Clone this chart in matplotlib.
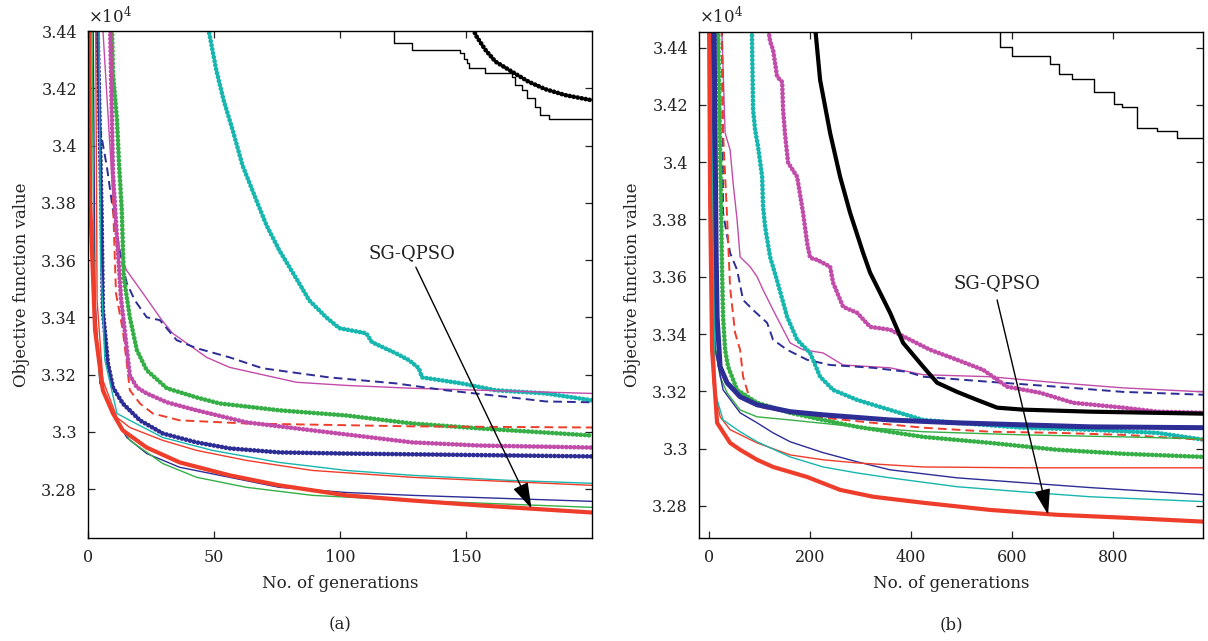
import matplotlib
matplotlib.use('Agg')
import matplotlib.pyplot as plt
from matplotlib.ticker import FuncFormatter, FixedLocator

plt.rcParams['font.family'] = ['DejaVu Serif']
plt.rcParams['mathtext.fontset'] = 'dejavuserif'

# ---------------- data (objective value in units of 1e4) ----------------
# Panel (a): 200 generations
a_black_step_x = [121.4, 121.4, 128.7, 147.8, 149.1, 150.3, 151.1, 157.7, 168.2, 169.6, 172.1, 174.1, 177.5, 179.5, 183.0, 200]
a_black_step_y = [3.450, 3.4359, 3.4334, 3.4322, 3.4301, 3.4289, 3.4270, 3.4254, 3.4240, 3.4211, 3.4194, 3.4165, 3.4133, 3.4106, 3.4092, 3.4092]
a_black_dot_x = [152.5, 153.8, 157.7, 161.7, 168.2, 174.8, 181.4, 189.4, 200]
a_black_dot_y = [3.4420, 3.4386, 3.4334, 3.4293, 3.4258, 3.4223, 3.4197, 3.4176, 3.4158]
a_cyan_dot_x = [47.5, 50.9, 53.8, 57.4, 61.3, 66.8, 70.8, 75.9, 83.1, 87.8, 94.5, 99.7, 110.4, 112.7, 122.2, 127.4, 131.3, 132.5, 148.3, 161.8, 181.6, 200]
a_cyan_dot_y = [3.4420, 3.4264, 3.4159, 3.4054, 3.3931, 3.3809, 3.3722, 3.3634, 3.3529, 3.3459, 3.3400, 3.3362, 3.3344, 3.3313, 3.3274, 3.3250, 3.3222, 3.3190, 3.3169, 3.3145, 3.3134, 3.3110]
a_mag_thin_x = [5.6, 10.3, 12.9, 15.3, 21.8, 29.3, 33.6, 47.1, 56.2, 82.7, 102.5, 128.6, 200]
a_mag_thin_y = [3.4450, 3.3764, 3.3617, 3.3564, 3.3484, 3.3390, 3.3344, 3.3260, 3.3225, 3.3173, 3.3162, 3.3152, 3.3134]
a_blue_dash_x = [3.9, 4.7, 7.5, 9.9, 12.7, 15.4, 18.6, 23.3, 28.5, 35.2, 43.1, 56.2, 69.2, 95.7, 122.2, 142.0, 168.1, 181.6, 200]
a_blue_dash_y = [3.4500, 3.4064, 3.3925, 3.3774, 3.3624, 3.3519, 3.3459, 3.3400, 3.3390, 3.3320, 3.3292, 3.3260, 3.3222, 3.3190, 3.3169, 3.3145, 3.3120, 3.3106, 3.3103]
a_green_dot_x = [9.3, 9.9, 11.5, 12.3, 13.4, 14.2, 16.6, 19.4, 23.3, 31.3, 43.1, 52.2, 75.9, 102.5, 128.6, 155.1, 200]
a_green_dot_y = [3.4500, 3.4253, 3.4089, 3.3938, 3.3774, 3.3540, 3.3400, 3.3285, 3.3215, 3.3152, 3.3120, 3.3099, 3.3075, 3.3057, 3.3029, 3.3012, 3.2987]
a_mag_dot_x = [8.6, 9.9, 11.5, 12.3, 13.1, 16.6, 19.4, 23.3, 31.3, 43.1, 62.9, 89.0, 115.5, 128.6, 155.1, 200]
a_mag_dot_y = [3.4500, 3.3904, 3.3676, 3.3575, 3.3466, 3.3197, 3.3155, 3.3134, 3.3103, 3.3075, 3.3033, 3.3005, 3.2977, 3.2963, 3.2952, 3.2945]
a_red_dash_x = [9.1, 9.9, 11.1, 13.8, 15.4, 16.6, 20.6, 25.7, 36.4, 62.9, 128.6, 200]
a_red_dash_y = [3.4500, 3.3809, 3.3484, 3.3355, 3.3239, 3.3145, 3.3099, 3.3064, 3.3040, 3.3029, 3.3019, 3.3015]
a_blue_dot_x = [3.6, 5.4, 5.9, 7.9, 9.9, 13.8, 20.6, 29.7, 43.1, 56.2, 75.9, 102.5, 200]
a_blue_dot_y = [3.4500, 3.3750, 3.3424, 3.3239, 3.3155, 3.3099, 3.3040, 3.2994, 3.2963, 3.2942, 3.2928, 3.2924, 3.2914]
a_cyan_thin_x = [4.3, 5.0, 6.7, 11.5, 16.6, 29.7, 49.4, 75.9, 102.5, 128.6, 168.1, 200]
a_cyan_thin_y = [3.4500, 3.3600, 3.3250, 3.3064, 3.3040, 3.2980, 3.2935, 3.2893, 3.2865, 3.2848, 3.2830, 3.2820]
a_red_thin_x = [3.0, 3.6, 5.9, 11.5, 16.6, 29.7, 43.1, 62.9, 89.0, 128.6, 200]
a_red_thin_y = [3.4500, 3.3460, 3.3180, 3.3050, 3.3015, 3.2970, 3.2935, 3.2900, 3.2865, 3.2841, 3.2813]
a_blue_thin_x = [2.0, 2.8, 4.7, 9.9, 15.4, 23.3, 36.4, 56.2, 75.9, 102.5, 128.6, 200]
a_blue_thin_y = [3.4500, 3.3460, 3.3170, 3.3064, 3.2980, 3.2924, 3.2876, 3.2841, 3.2806, 3.2788, 3.2778, 3.2757]
a_green_thin_x = [1.5, 2.4, 4.7, 9.9, 16.6, 29.7, 43.1, 62.9, 89.0, 128.6, 200]
a_green_thin_y = [3.4500, 3.3460, 3.3180, 3.3064, 3.2970, 3.2889, 3.2841, 3.2806, 3.2778, 3.2760, 3.2736]
a_red_thick_x = [0.5, 0.8, 2.8, 5.9, 9.9, 13.8, 23.3, 36.4, 56.2, 75.9, 102.5, 128.6, 155.1, 200]
a_red_thick_y = [3.4500, 3.3810, 3.3355, 3.3145, 3.3064, 3.3005, 3.2945, 3.2893, 3.2848, 3.2813, 3.2778, 3.2760, 3.2743, 3.2718]

# Panel (b): ~1000 generations
b_black_step_x = [576, 576, 600, 675, 693, 719, 762, 802, 818, 848, 887, 927, 980]
b_black_step_y = [3.450, 3.4403, 3.4371, 3.4342, 3.4308, 3.4290, 3.4246, 3.4203, 3.4192, 3.4119, 3.4107, 3.4084, 3.4084]
b_black_dot_x = [210, 219.8, 239.6, 259.4, 279.2, 305, 318.8, 358.4, 384.2, 423.8, 451.5, 491.1, 530.7, 570.3, 621.8, 754.5, 980]
b_black_dot_y = [3.4470, 3.4287, 3.4102, 3.3949, 3.3823, 3.3683, 3.3614, 3.3474, 3.3369, 3.3286, 3.3230, 3.3198, 3.3170, 3.3143, 3.3136, 3.3129, 3.3122]
b_mag_dot_x = [116.8, 120.8, 126.7, 134.7, 144.6, 146.5, 150.5, 156.4, 174.3, 186.1, 194.1, 200, 213.9, 239.6, 245.5, 265.3, 293.1, 318.8, 358.4, 398, 437.6, 491.1, 542.6, 590.1, 655.4, 720.8, 819.8, 887.1, 980]
b_mag_dot_y = [3.4470, 3.4421, 3.4392, 3.4298, 3.4280, 3.4183, 3.4095, 3.3998, 3.3949, 3.3823, 3.3718, 3.3666, 3.3659, 3.3635, 3.3579, 3.3495, 3.3474, 3.3425, 3.3415, 3.3380, 3.3345, 3.3310, 3.3275, 3.3216, 3.3195, 3.3160, 3.3143, 3.3129, 3.3125]
b_cyan_dot_x = [84.6, 87.1, 91.1, 97, 105, 106.9, 110.9, 120.8, 134.7, 154.5, 174.3, 200, 219.8, 245.5, 293.1, 358.4, 423.8, 491.1, 621.8, 754.5, 887.1, 980]
b_cyan_dot_y = [3.4470, 3.4183, 3.4113, 3.4053, 3.3949, 3.3844, 3.3774, 3.3669, 3.3586, 3.3460, 3.3380, 3.3334, 3.3251, 3.3205, 3.3170, 3.3135, 3.3100, 3.3090, 3.3073, 3.3066, 3.3055, 3.3031]
b_mag_thin_x = [25.1, 31.7, 41.6, 47.5, 55.4, 61.4, 81.2, 95, 106.9, 126.7, 160.4, 186.1, 225.7, 265.3, 358.4, 423.8, 556.4, 689.1, 819.8, 980]
b_mag_thin_y = [3.4470, 3.4102, 3.4043, 3.3928, 3.3799, 3.3669, 3.3635, 3.3600, 3.3554, 3.3484, 3.3369, 3.3345, 3.3334, 3.3292, 3.3282, 3.3258, 3.3251, 3.3230, 3.3212, 3.3198]
b_blue_dash_x = [25.7, 27.7, 41.6, 55.4, 67.3, 87.1, 114.9, 126.7, 154.5, 194.1, 239.6, 324.8, 392.1, 423.8, 556.4, 689.1, 819.8, 980]
b_blue_dash_y = [3.4470, 3.3823, 3.3683, 3.3624, 3.3519, 3.3484, 3.3439, 3.3380, 3.3345, 3.3310, 3.3292, 3.3282, 3.3268, 3.3251, 3.3233, 3.3216, 3.3198, 3.3188]
b_red_dash_x = [24.8, 27.7, 35.6, 41.6, 51.5, 61.4, 67.3, 81.2, 106.9, 160.4, 225.7, 324.8, 423.8, 556.4, 689.1, 819.8, 980]
b_red_dash_y = [3.4470, 3.4102, 3.3809, 3.3561, 3.3404, 3.3345, 3.3251, 3.3170, 3.3143, 3.3125, 3.3108, 3.3090, 3.3073, 3.3059, 3.3055, 3.3048, 3.3031]
b_green_dot_x = [17.8, 21.8, 25.7, 27.7, 31.7, 37.6, 55.4, 95, 160.4, 225.7, 293.1, 423.8, 556.4, 689.1, 819.8, 980]
b_green_dot_y = [3.4470, 3.4043, 3.3614, 3.3460, 3.3345, 3.3286, 3.3205, 3.3160, 3.3125, 3.3100, 3.3076, 3.3041, 3.3020, 3.2996, 3.2982, 3.2971]
b_blue_dot_x = [9.9, 13.9, 15.8, 21.8, 35.6, 61.4, 95, 160.4, 225.7, 358.4, 491.1, 621.8, 754.5, 980]
b_blue_dot_y = [3.4470, 3.3694, 3.3460, 3.3286, 3.3230, 3.3181, 3.3153, 3.3129, 3.3118, 3.3100, 3.3090, 3.3083, 3.3076, 3.3073]
b_green_thin_x = [4, 7.9, 21.8, 35.6, 61.4, 95, 160.4, 293.1, 423.8, 621.8, 819.8, 980]
b_green_thin_y = [3.4470, 3.3404, 3.3251, 3.3195, 3.3135, 3.3111, 3.3100, 3.3076, 3.3059, 3.3048, 3.3041, 3.3034]
b_blue_thin_x = [4, 11.9, 27.7, 61.4, 95, 126.7, 160.4, 225.7, 293.1, 358.4, 491.1, 621.8, 754.5, 980]
b_blue_thin_y = [3.4470, 3.3345, 3.3205, 3.3125, 3.3090, 3.3055, 3.3024, 3.2986, 3.2954, 3.2926, 3.2898, 3.2881, 3.2864, 3.2839]
b_red_thin_x = [2, 7.9, 21.8, 41.6, 95, 160.4, 225.7, 293.1, 423.8, 621.8, 980]
b_red_thin_y = [3.4470, 3.3230, 3.3111, 3.3066, 3.3020, 3.2978, 3.2961, 3.2950, 3.2936, 3.2933, 3.2933]
b_cyan_thin_x = [2, 11.9, 27.7, 61.4, 95, 160.4, 225.7, 293.1, 358.4, 491.1, 621.8, 754.5, 980]
b_cyan_thin_y = [3.4470, 3.3195, 3.3100, 3.3059, 3.3024, 3.2971, 3.2936, 3.2915, 3.2898, 3.2867, 3.2849, 3.2832, 3.2815]
b_red_thick_x = [0, 2, 5.9, 15.8, 41.6, 61.4, 95, 126.7, 194.1, 259.4, 324.8, 423.8, 556.4, 689.1, 819.8, 980]
b_red_thick_y = [3.4470, 3.3868, 3.3345, 3.3090, 3.3020, 3.2996, 3.2961, 3.2936, 3.2901, 3.2856, 3.2832, 3.2811, 3.2786, 3.2769, 3.2759, 3.2745]

a_xticks = [0, 50, 100, 150]
b_xticks = [0, 200, 400, 600, 800]
y_ticks = [3.28, 3.30, 3.32, 3.34, 3.36, 3.38, 3.40, 3.42, 3.44]
panel_labels = ['(a)', '(b)']
annot_text = 'SG-QPSO'

# ---------------- styles ----------------
RED = '#ee3d2b'; BLUE = '#2d2d96'; GREEN = '#35af46'; MAG = '#c24ca9'; CYAN = '#17b6ae'; BLACK = '#000000'
DOT = dict(linestyle=(0, (0.01, 0.85)), lw=3.4, dash_capstyle='round')
THIN = dict(linestyle='-', lw=1.0)
DASH = dict(linestyle=(0, (4.5, 2.6)), lw=1.4)

series_a = [
    (a_black_step_x, a_black_step_y, BLACK, dict(linestyle='-', lw=1.0, drawstyle='steps-post')),
    (a_black_dot_x, a_black_dot_y, BLACK, DOT),
    (a_cyan_dot_x, a_cyan_dot_y, CYAN, DOT),
    (a_mag_thin_x, a_mag_thin_y, MAG, THIN),
    (a_blue_dash_x, a_blue_dash_y, BLUE, DASH),
    (a_green_dot_x, a_green_dot_y, GREEN, DOT),
    (a_red_dash_x, a_red_dash_y, RED, DASH),
    (a_mag_dot_x, a_mag_dot_y, MAG, DOT),
    (a_blue_dot_x, a_blue_dot_y, BLUE, DOT),
    (a_cyan_thin_x, a_cyan_thin_y, CYAN, THIN),
    (a_red_thin_x, a_red_thin_y, RED, THIN),
    (a_blue_thin_x, a_blue_thin_y, BLUE, THIN),
    (a_green_thin_x, a_green_thin_y, GREEN, THIN),
    (a_red_thick_x, a_red_thick_y, RED, dict(linestyle='-', lw=3.0)),
]
series_b = [
    (b_black_step_x, b_black_step_y, BLACK, dict(linestyle='-', lw=1.0, drawstyle='steps-post')),
    (b_mag_thin_x, b_mag_thin_y, MAG, THIN),
    (b_blue_dash_x, b_blue_dash_y, BLUE, DASH),
    (b_mag_dot_x, b_mag_dot_y, MAG, DOT),
    (b_black_dot_x, b_black_dot_y, BLACK, dict(linestyle='-', lw=3.0)),
    (b_cyan_dot_x, b_cyan_dot_y, CYAN, DOT),
    (b_red_dash_x, b_red_dash_y, RED, DASH),
    (b_green_thin_x, b_green_thin_y, GREEN, THIN),
    (b_green_dot_x, b_green_dot_y, GREEN, DOT),
    (b_blue_dot_x, b_blue_dot_y, BLUE, dict(linestyle='-', lw=3.6)),
    (b_blue_thin_x, b_blue_thin_y, BLUE, THIN),
    (b_red_thin_x, b_red_thin_y, RED, THIN),
    (b_cyan_thin_x, b_cyan_thin_y, CYAN, THIN),
    (b_red_thick_x, b_red_thick_y, RED, dict(linestyle='-', lw=3.0)),
]

fig = plt.figure(figsize=(12.08, 6.41), dpi=100)
W, H = 1208, 641
ax_a = fig.add_axes([88 / W, 1 - 538 / H, (592 - 88) / W, (538 - 31) / H])
ax_b = fig.add_axes([699 / W, 1 - 538 / H, (1203 - 699) / W, (538 - 31.5) / H])

fmt = FuncFormatter(lambda v, p: ('%.2f' % v).rstrip('0').rstrip('.'))

def setup(ax, series, xlim, ylim, xticks, plabel, txt_xy, arr_from, arr_to):
    for x, y, c, st in series:
        ax.plot(x, y, color=c, **st)
    ax.set_xlim(*xlim)
    ax.set_ylim(*ylim)
    ax.xaxis.set_major_locator(FixedLocator(xticks))
    ax.yaxis.set_major_locator(FixedLocator(y_ticks))
    ax.yaxis.set_major_formatter(fmt)
    ax.tick_params(direction='in', top=True, right=True, length=5, width=0.9,
                   labelsize=11.5, pad=8, colors='#222222')
    for s in ax.spines.values():
        s.set_linewidth(1.0)
    ax.set_xlabel('No. of generations', fontsize=12, color='#222222')
    ax.xaxis.set_label_coords(0.5, -0.073)
    ax.set_ylabel('Objective function value', fontsize=12, color='#222222')
    ax.yaxis.set_label_coords(-0.115, 0.5)
    ax.text(0.5, -0.172, plabel, transform=ax.transAxes, ha='center', va='center',
            fontsize=12, color='#222222')
    ax.text(0.0, 1.008, r'$\times 10^{4}$', transform=ax.transAxes, ha='left', va='bottom',
            fontsize=12, color='#222222')
    ax.text(txt_xy[0], txt_xy[1], annot_text, ha='center', va='center', fontsize=13,
            color='#222222')
    ax.annotate('', xy=arr_to, xytext=arr_from,
                arrowprops=dict(arrowstyle='-|>,head_length=0.8,head_width=0.25',
                                color='black', lw=1.0, mutation_scale=20,
                                shrinkA=0, shrinkB=0))

setup(ax_a, series_a, (0, 200), (3.2629, 3.44), a_xticks, panel_labels[0],
      (128.6, 3.3624), (130.1, 3.3575), (176.0, 3.2732))
setup(ax_b, series_b, (-20, 978), (3.2688, 3.4456), b_xticks, panel_labels[1],
      (570.3, 3.3579), (570.3, 3.3519), (671.3, 3.2769))

fig.savefig('out.png', dpi=100)
